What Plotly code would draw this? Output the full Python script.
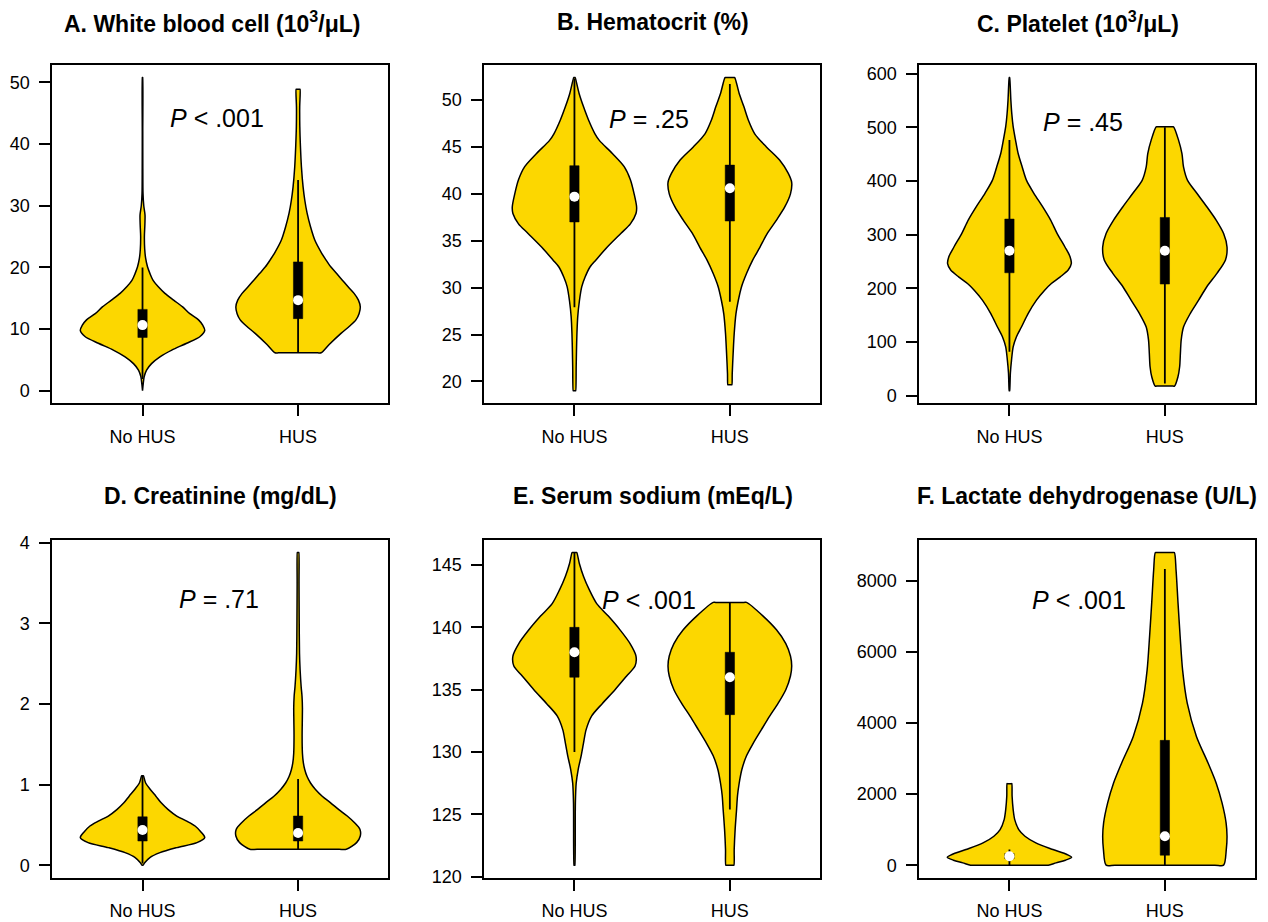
import plotly.graph_objects as go

# ---------------- data ----------------
GROUPS = ["No HUS", "HUS"]
TITLES = [
    "A. White blood cell (10<sup>3</sup>/μL)",
    "B. Hematocrit (%)",
    "C. Platelet (10<sup>3</sup>/μL)",
    "D. Creatinine (mg/dL)",
    "E. Serum sodium (mEq/L)",
    "F. Lactate dehydrogenase (U/L)",
]
P_TEXT = ["<i>P</i> &lt; .001", "<i>P</i> = .25", "<i>P</i> = .45",
          "<i>P</i> = .71", "<i>P</i> &lt; .001", "<i>P</i> &lt; .001"]
Y_TICKS = [
    [0, 10, 20, 30, 40, 50],
    [20, 25, 30, 35, 40, 45, 50],
    [0, 100, 200, 300, 400, 500, 600],
    [0, 1, 2, 3, 4],
    [120, 125, 130, 135, 140, 145],
    [0, 2000, 4000, 6000, 8000],
]

# violin profiles: value grid and relative density (1 = widest)
wbc_no_y = [0, 1.2, 2.3, 3.35, 4.4, 5.5, 6.6, 7.7, 8.8, 9.8, 10.6, 11.5, 12.5, 13.6, 14.7,
            15.8, 16.9, 17.9, 19, 20.1, 21.5, 23, 25, 27, 28.5, 30, 32, 36, 42, 50.8]
wbc_no_d = [0, 0.012, 0.027, 0.065, 0.145, 0.28, 0.47, 0.71, 0.925, 1.0, 0.97, 0.9, 0.76, 0.645, 0.5,
            0.36, 0.25, 0.17, 0.12, 0.08, 0.05, 0.035, 0.03, 0.038, 0.04, 0.02, 0.008, 0.005, 0.004, 0.004]
wbc_hus_y = [6.16, 7.5, 9.3, 10.5, 11.5, 12.5, 13.6, 14.7, 15.8, 16.9, 17.9, 19, 20.1, 21.2, 22.3,
             24.4, 26.6, 28.8, 30.9, 33.1, 36.3, 39.6, 42.8, 46, 48.9]
wbc_hus_d = [0.37, 0.5, 0.69, 0.83, 0.93, 0.98, 1.0, 0.97, 0.9, 0.8, 0.715, 0.62, 0.525, 0.45, 0.38,
             0.27, 0.2, 0.145, 0.108, 0.08, 0.054, 0.038, 0.028, 0.026, 0.032]

hct_no_y = [19, 21.5, 23.3, 25.1, 26.9, 28.6, 30.1, 31.1, 32.2, 32.9, 34.3, 35.8, 36.8, 37.9, 38.6,
            40.0, 41.5, 42.9, 44.3, 45.7, 46.4, 47.9, 49.3, 50.7, 52.4]
hct_no_d = [0.02, 0.028, 0.033, 0.04, 0.053, 0.08, 0.118, 0.17, 0.25, 0.34, 0.525, 0.75, 0.9, 0.99, 1.0,
            0.96, 0.9, 0.8, 0.61, 0.4, 0.33, 0.225, 0.145, 0.075, 0.012]
hct_hus_y = [19.65, 20.8, 23, 25.1, 27.2, 28.6, 30.1, 31.5, 32.9, 34.3, 35.8, 37.2, 38.6, 40.0, 41.2,
             42.2, 43.6, 45.0, 46.4, 47.9, 49.3, 50.7, 52.4]
hct_hus_d = [0.033, 0.038, 0.053, 0.07, 0.098, 0.135, 0.188, 0.268, 0.365, 0.483, 0.605, 0.75, 0.883,
             0.975, 0.995, 0.938, 0.8, 0.588, 0.4, 0.295, 0.225, 0.15, 0.078]

plt_no_y = [9.3, 42, 66, 91, 110, 128, 153, 178, 197, 209, 221, 234, 246, 259, 277, 302, 327, 352,
            377, 401, 426, 451, 476, 501, 525, 550, 592.5]
plt_no_d = [0.005, 0.015, 0.033, 0.06, 0.113, 0.193, 0.3, 0.435, 0.57, 0.675, 0.813, 0.945, 0.995,
            0.975, 0.893, 0.768, 0.663, 0.533, 0.393, 0.275, 0.205, 0.14, 0.098, 0.06, 0.038, 0.023, 0.005]
plt_hus_y = [18, 35, 54, 79, 104, 128, 153, 178, 203, 228, 253, 277, 302, 327, 352, 377, 401, 426,
             451, 476, 500.7]
plt_hus_d = [0.155, 0.21, 0.238, 0.25, 0.263, 0.3, 0.408, 0.543, 0.675, 0.838, 0.975, 1.0, 0.945,
             0.825, 0.675, 0.515, 0.365, 0.3, 0.275, 0.22, 0.14]

cre_no_y = [0, 0.033, 0.095, 0.156, 0.218, 0.28, 0.342, 0.403, 0.486, 0.547, 0.61, 0.69, 0.774,
            0.856, 0.94, 1.02, 1.11]
cre_no_d = [0.01, 0.038, 0.118, 0.28, 0.55, 0.875, 1.0, 0.95, 0.845, 0.71, 0.55, 0.413, 0.3, 0.215,
            0.125, 0.05, 0.015]
cre_hus_y = [0.198, 0.28, 0.362, 0.444, 0.527, 0.61, 0.69, 0.774, 0.856, 0.94, 1.02, 1.10, 1.185,
             1.27, 1.39, 1.6, 1.8, 1.95, 2.1, 2.21, 2.42, 2.63, 3.04, 3.5, 3.88]
cre_hus_d = [0.775, 0.94, 1.0, 0.995, 0.908, 0.79, 0.655, 0.523, 0.388, 0.28, 0.2, 0.145, 0.108,
             0.085, 0.07, 0.065, 0.068, 0.07, 0.063, 0.05, 0.033, 0.023, 0.018, 0.015, 0.013]

na_no_y = [120.93, 125.9, 127.5, 128.6, 129.7, 130.7, 131.8, 132.9, 133.9, 135.0, 136.1, 136.9,
           137.7, 138.7, 139.8, 140.9, 141.9, 143.0, 144.1, 145.1, 146.0]
na_no_d = [0.008, 0.015, 0.028, 0.06, 0.108, 0.145, 0.188, 0.278, 0.45, 0.653, 0.84, 0.975, 0.99,
           0.895, 0.733, 0.545, 0.358, 0.24, 0.145, 0.08, 0.038]
na_hus_y = [120.93, 122.2, 123.8, 125.4, 126.5, 127.5, 128.6, 129.7, 130.7, 131.8, 132.9, 133.9,
            135.0, 136.1, 136.9, 137.7, 138.7, 139.8, 140.9, 142.0]
na_hus_d = [0.065, 0.07, 0.085, 0.108, 0.123, 0.15, 0.193, 0.268, 0.375, 0.508, 0.643, 0.775, 0.9,
            0.975, 0.995, 0.975, 0.9, 0.75, 0.535, 0.268]

ldh_no_y = [0, 66, 140, 225, 300, 440, 628, 815, 1002, 1283, 1564, 1939, 2295]
ldh_no_d = [0.625, 0.75, 0.9, 1.0, 0.925, 0.7, 0.425, 0.25, 0.15, 0.085, 0.06, 0.043, 0.038]
ldh_hus_y = [0, 440, 815, 1190, 1752, 2314, 2876, 3625, 4562, 5499, 6436, 7372, 8309, 8800]
ldh_hus_d = [0.945, 0.988, 1.0, 0.985, 0.92, 0.825, 0.695, 0.508, 0.36, 0.285, 0.246, 0.212, 0.18, 0.153]

# box statistics: [lower whisker, Q1, median, Q3, upper whisker]
wbc_no_box = [1.9, 8.65, 10.65, 13.2, 20.0]
wbc_hus_box = [6.16, 11.7, 14.7, 20.9, 34.2]
hct_no_box = [27.9, 37.0, 39.7, 43.0, 52.3]
hct_hus_box = [28.5, 37.1, 40.6, 43.06, 51.7]
plt_no_box = [82, 229, 270, 329, 476]
plt_hus_box = [23, 208, 270, 332, 500]
cre_no_box = [0.02, 0.30, 0.436, 0.60, 1.11]
cre_hus_box = [0.2, 0.30, 0.40, 0.61, 1.07]
na_no_box = [130, 136, 138, 140, 146]
na_hus_box = [125.4, 133, 136, 138, 142]
ldh_no_box = [0, 180, 253, 330, 440]
ldh_hus_box = [0, 281, 815, 3513, 8337]

PANELS = [
    ((wbc_no_y, wbc_no_d, wbc_no_box), (wbc_hus_y, wbc_hus_d, wbc_hus_box)),
    ((hct_no_y, hct_no_d, hct_no_box), (hct_hus_y, hct_hus_d, hct_hus_box)),
    ((plt_no_y, plt_no_d, plt_no_box), (plt_hus_y, plt_hus_d, plt_hus_box)),
    ((cre_no_y, cre_no_d, cre_no_box), (cre_hus_y, cre_hus_d, cre_hus_box)),
    ((na_no_y, na_no_d, na_no_box), (na_hus_y, na_hus_d, na_hus_box)),
    ((ldh_no_y, ldh_no_d, ldh_no_box), (ldh_hus_y, ldh_hus_d, ldh_hus_box)),
]

# ---------------- layout / style ----------------
W, H = 1268, 922
FONT = "Liberation Sans, Arial, Helvetica, sans-serif"
FILL = "#FCD700"
HALF_W = 0.4          # max half-width of violin in x units
BOX_HALF = 0.03       # half-width of the IQR box in x units
EDGE_IN = 0.85        # helper point on flat ends keeps the spline corners square
COLS = [(52.3, 388.3), (484.3, 820.0), (919.3, 1255.0)]
ROWS = [(65.0, 403.3), (540.0, 877.7)]
TITLE_X = [211.7, 652.5, 1078.0, 220.5, 652.5, 1087.0]
TITLE_Y = [21.7, 495.7]
P_POS = [(1.48, 44.3), (1.48, 48.0), (1.474, 508.8), (1.49, 3.3), (1.48, 142.2), (1.45, 7468)]


def violin_outline(pos, vy, vd):
    y0, yt = vy[0], vy[-1]
    d0, dt = vd[0], vd[-1]
    xs = [pos, pos + EDGE_IN * d0 * HALF_W]
    ys = [y0, y0]
    xs += [pos + d * HALF_W for d in vd]
    ys += list(vy)
    xs += [pos + EDGE_IN * dt * HALF_W, pos - EDGE_IN * dt * HALF_W]
    ys += [yt, yt]
    xs += [pos - d * HALF_W for d in vd[::-1]]
    ys += list(vy[::-1])
    xs += [pos - EDGE_IN * d0 * HALF_W, pos]
    ys += [y0, y0]
    return xs, ys


fig = go.Figure()
layout = dict(width=W, height=H, margin=dict(l=0, r=0, t=0, b=0, autoexpand=False),
              paper_bgcolor="white", plot_bgcolor="white", showlegend=False,
              font=dict(family=FONT, color="black"))
annotations = []

for i, panel in enumerate(PANELS):
    r, c = divmod(i, 3)
    n = i + 1
    xa = "x" if n == 1 else f"x{n}"
    ya = "y" if n == 1 else f"y{n}"
    allv = []
    for pos, (vy, vd, st) in zip([1, 2], panel):
        allv += list(vy)
        xs, ys = violin_outline(pos, vy, vd)
        fig.add_trace(go.Scatter(x=xs, y=ys, xaxis=xa, yaxis=ya, mode="lines",
                                 fill="toself", fillcolor=FILL,
                                 line=dict(color="black", width=1.5, shape="spline", smoothing=0.8),
                                 hoverinfo="skip"))
        # whisker
        fig.add_trace(go.Scatter(x=[pos, pos], y=[st[0], st[4]], xaxis=xa, yaxis=ya,
                                 mode="lines", line=dict(color="black", width=1.8),
                                 hoverinfo="skip"))
        # IQR box
        fig.add_trace(go.Scatter(x=[pos - BOX_HALF, pos + BOX_HALF, pos + BOX_HALF, pos - BOX_HALF, pos - BOX_HALF],
                                 y=[st[1], st[1], st[3], st[3], st[1]], xaxis=xa, yaxis=ya,
                                 mode="lines", fill="toself", fillcolor="black",
                                 line=dict(color="black", width=0.5), hoverinfo="skip"))
        # median
        fig.add_trace(go.Scatter(x=[pos], y=[st[2]], xaxis=xa, yaxis=ya, mode="markers",
                                 marker=dict(color="white", size=10, line=dict(width=0)),
                                 hoverinfo="skip"))
    lo, hi = min(allv), max(allv)
    pad = 0.04 * (hi - lo)
    x0, x1 = COLS[c]
    y0, y1 = ROWS[r]
    axis_common = dict(showline=True, mirror=True, linecolor="black", linewidth=1.8,
                       ticks="outside", ticklen=11, tickwidth=1.8, tickcolor="black",
                       showgrid=False, zeroline=False, automargin=False,
                       tickfont=dict(family=FONT, size=18, color="black"))
    layout["xaxis" if n == 1 else f"xaxis{n}"] = dict(
        axis_common, domain=[x0 / W, x1 / W], range=[0.42, 2.58],
        tickvals=[1, 2], ticktext=GROUPS, anchor=ya, ticklabelstandoff=5)
    layout["yaxis" if n == 1 else f"yaxis{n}"] = dict(
        axis_common, domain=[1 - y1 / H, 1 - y0 / H], range=[lo - pad, hi + pad],
        tickvals=Y_TICKS[i], anchor=xa, ticklabelstandoff=6)
    annotations.append(dict(text=f"<b>{TITLES[i]}</b>", xref="paper", yref="paper",
                            x=TITLE_X[i] / W, y=1 - TITLE_Y[r] / H, xanchor="center",
                            yanchor="middle", showarrow=False,
                            font=dict(family=FONT, size=23, color="black")))
    px, py = P_POS[i]
    annotations.append(dict(text=P_TEXT[i], xref=xa, yref=ya, x=px, y=py,
                            xanchor="center", yanchor="middle", showarrow=False,
                            font=dict(family=FONT, size=25, color="black")))

layout["annotations"] = annotations
fig.update_layout(**layout)
fig.write_html("out.html", config={"displayModeBar": False},
               post_script="document.body.style.margin='0';")
